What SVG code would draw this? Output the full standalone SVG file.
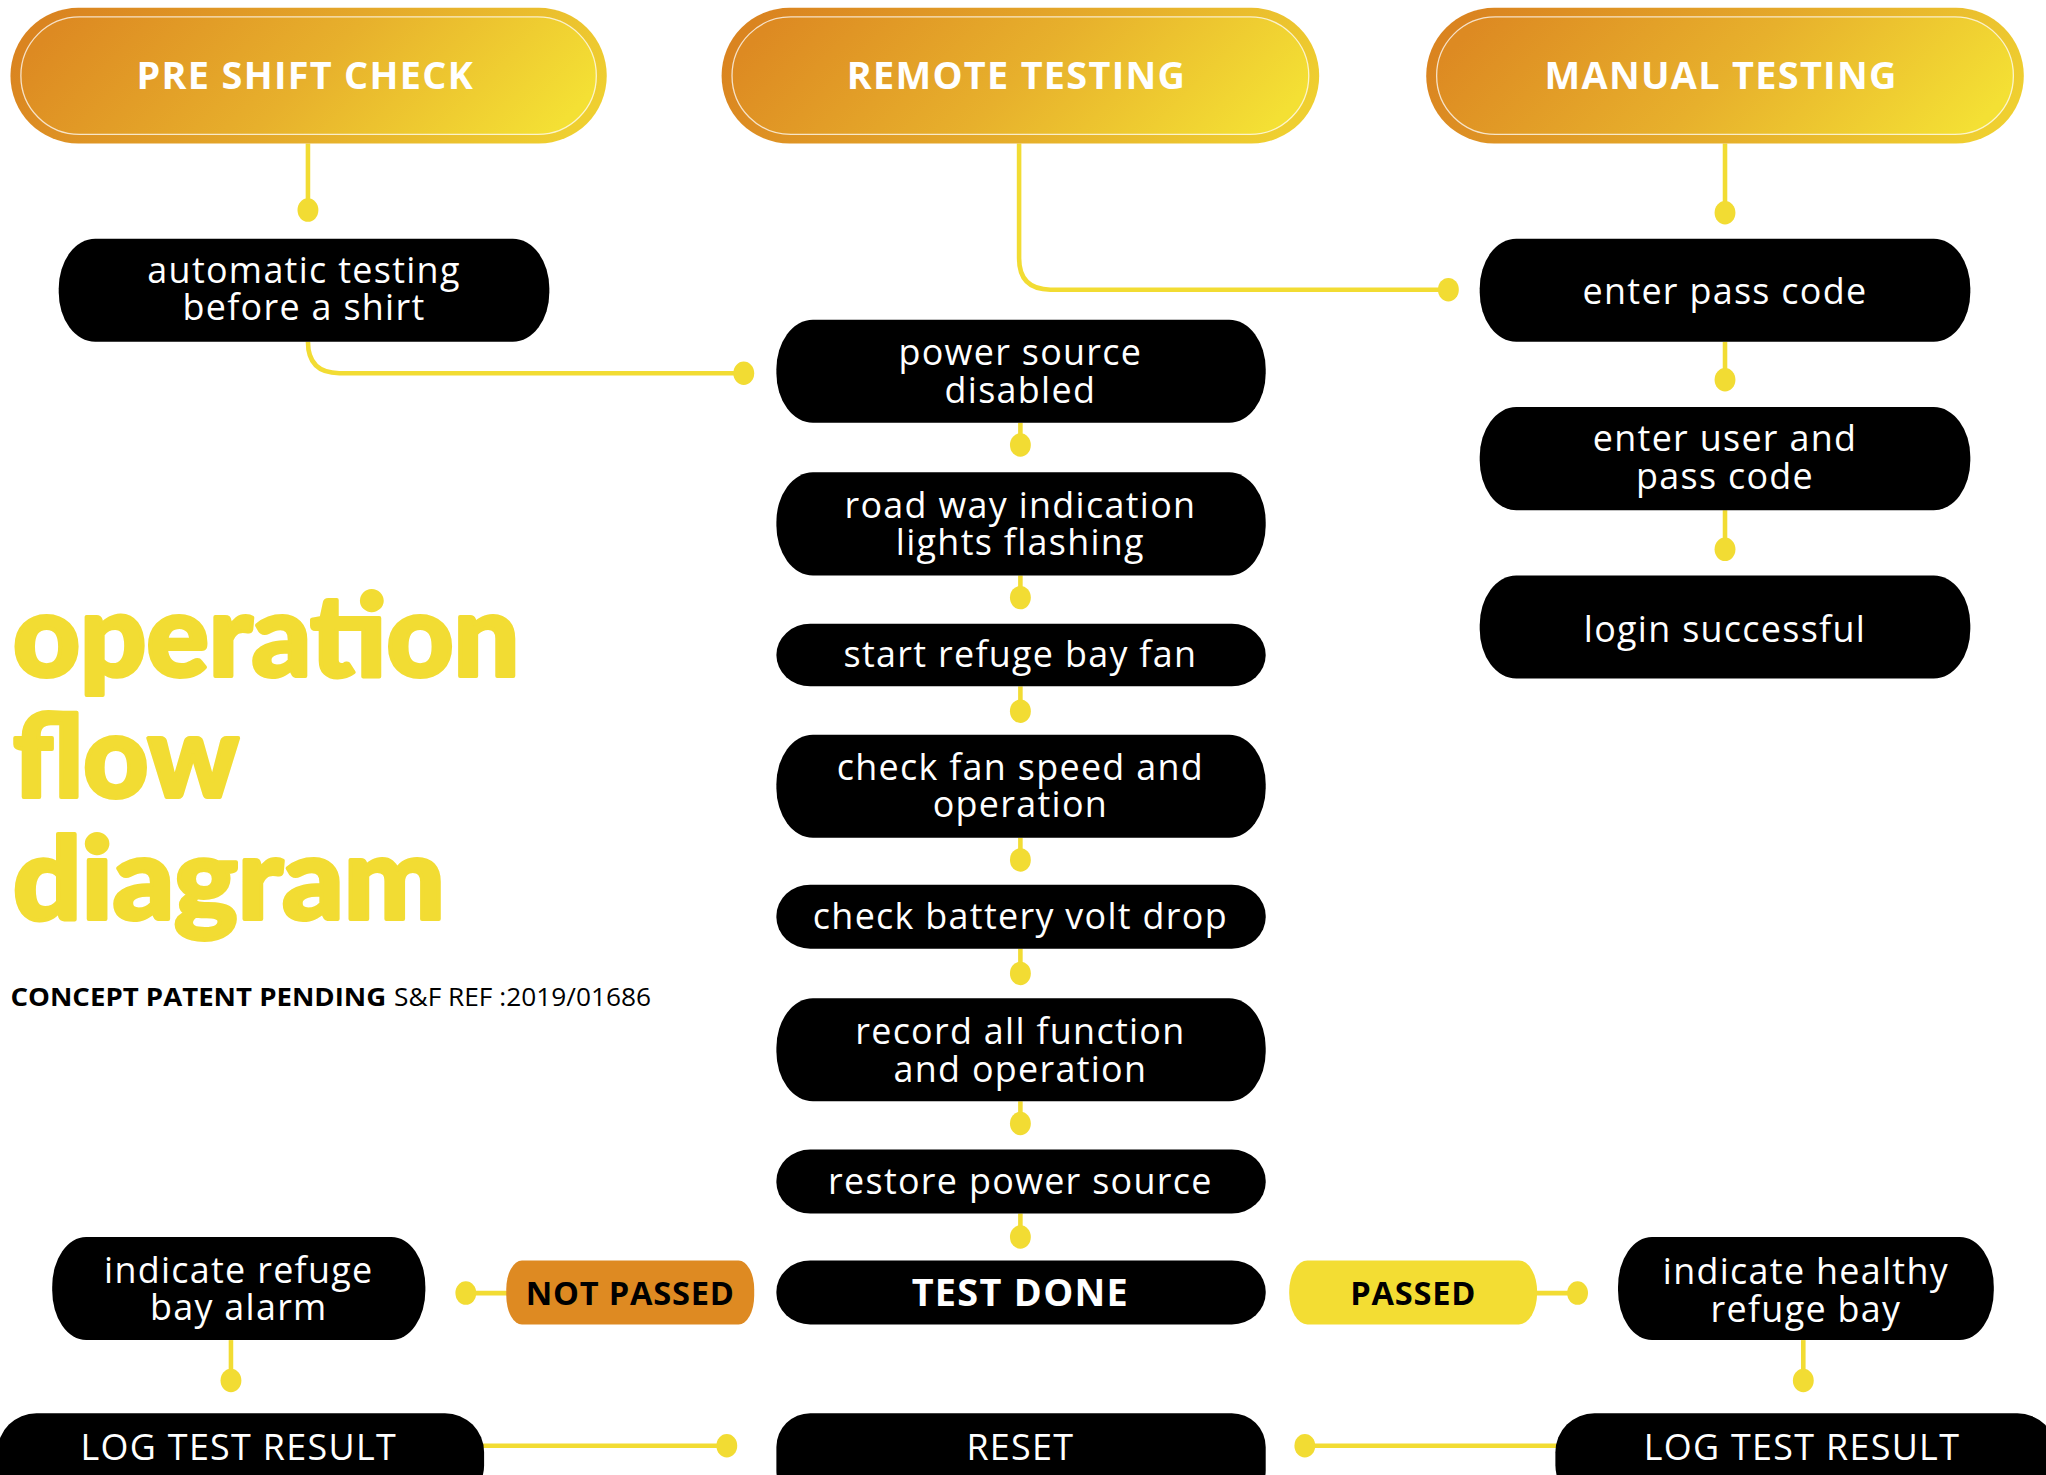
<svg xmlns="http://www.w3.org/2000/svg" width="2046" height="1475" viewBox="0 0 2046 1475">
<defs>
<linearGradient id="gOuter" x1="0" y1="0.4" x2="1" y2="0.6">
<stop offset="0" stop-color="#DA8420"/>
<stop offset="0.5" stop-color="#E4A82A"/>
<stop offset="1" stop-color="#EFCF30"/>
</linearGradient>
<linearGradient id="gInner" x1="0" y1="0.4" x2="1" y2="0.6">
<stop offset="0" stop-color="#DD8A22"/>
<stop offset="0.5" stop-color="#E7B02C"/>
<stop offset="1" stop-color="#F4E034"/>
</linearGradient>
<style>
.box{fill:#000}
.t{font-family:"Open Sans","Liberation Sans",sans-serif;font-size:27.5px;letter-spacing:1px;fill:#fff;text-anchor:middle}
.tb{font-family:"Open Sans","Liberation Sans",sans-serif;font-size:29px;letter-spacing:1px;font-weight:700;fill:#fff;text-anchor:middle}
.hdr{font-family:"Open Sans","Liberation Sans",sans-serif;font-size:29px;letter-spacing:1px;font-weight:700;fill:#fff;text-anchor:middle}
.lab{font-family:"Open Sans","Liberation Sans",sans-serif;font-size:25px;letter-spacing:0.6px;font-weight:700;fill:#000;text-anchor:middle}
.ln{stroke:#F2DC33;stroke-width:3.5;fill:none}
.dot{fill:#F2DC33}
.title{font-family:Lato,"Open Sans",sans-serif;font-weight:900;font-size:88px;fill:#F2DC33;stroke:#F2DC33;stroke-width:3;stroke-linejoin:round}
.outer{fill:url(#gOuter)}
.inner{fill:url(#gInner);stroke:#FFFFFF;stroke-opacity:0.75;stroke-width:1}
</style>
</defs>
<rect x="0" y="0" width="2046" height="1475" fill="#FFFFFF"/>
<g transform="scale(1.30485)">
<g id="connectors">
<path class="ln" d="M236,110 V161"/>
<ellipse class="dot" cx="236" cy="161" rx="8" ry="9"/>
<path class="ln" d="M236,262 Q236,286 260,286 H570"/>
<ellipse class="dot" cx="570" cy="286" rx="8" ry="9"/>
<path class="ln" d="M781,110 V198 Q781,222 805,222 H1110"/>
<ellipse class="dot" cx="1110" cy="222" rx="8" ry="9"/>
<path class="ln" d="M1322,110 V163"/>
<ellipse class="dot" cx="1322" cy="163" rx="8" ry="9"/>
<path class="ln" d="M1322,262 V291"/>
<ellipse class="dot" cx="1322" cy="291" rx="8" ry="9"/>
<path class="ln" d="M1322,391 V421"/>
<ellipse class="dot" cx="1322" cy="421" rx="8" ry="9"/>
<path class="ln" d="M782,324 V341"/>
<ellipse class="dot" cx="782" cy="341" rx="8" ry="9"/>
<path class="ln" d="M782,441 V458"/>
<ellipse class="dot" cx="782" cy="458" rx="8" ry="9"/>
<path class="ln" d="M782,526 V545"/>
<ellipse class="dot" cx="782" cy="545" rx="8" ry="9"/>
<path class="ln" d="M782,642 V659"/>
<ellipse class="dot" cx="782" cy="659" rx="8" ry="9"/>
<path class="ln" d="M782,727 V746"/>
<ellipse class="dot" cx="782" cy="746" rx="8" ry="9"/>
<path class="ln" d="M782,844 V861"/>
<ellipse class="dot" cx="782" cy="861" rx="8" ry="9"/>
<path class="ln" d="M782,930 V948"/>
<ellipse class="dot" cx="782" cy="948" rx="8" ry="9"/>
<path class="ln" d="M357,991 H390"/>
<ellipse class="dot" cx="357" cy="991" rx="8" ry="9"/>
<path class="ln" d="M1176,991 H1209"/>
<ellipse class="dot" cx="1209" cy="991" rx="8" ry="9"/>
<path class="ln" d="M177,1027 V1058"/>
<ellipse class="dot" cx="177" cy="1058" rx="8" ry="9"/>
<path class="ln" d="M1382,1027 V1058"/>
<ellipse class="dot" cx="1382" cy="1058" rx="8" ry="9"/>
<path class="ln" d="M369,1108 H557"/>
<ellipse class="dot" cx="557" cy="1108" rx="8" ry="9"/>
<path class="ln" d="M1000,1108 H1194"/>
<ellipse class="dot" cx="1000" cy="1108" rx="8" ry="9"/>
</g>
<g id="hdr-pre">
<rect class="outer" x="8" y="6" width="457" height="104" rx="52" ry="52"/>
<rect class="inner" x="16" y="13" width="441" height="90" rx="45" ry="45"/>
<text class="hdr" x="234" y="68">PRE SHIFT CHECK</text>
</g>
<g id="hdr-remote">
<rect class="outer" x="553" y="6" width="458" height="104" rx="52" ry="52"/>
<rect class="inner" x="561" y="13" width="442" height="90" rx="45" ry="45"/>
<text class="hdr" x="779" y="68">REMOTE TESTING</text>
</g>
<g id="hdr-manual">
<rect class="outer" x="1093" y="6" width="458" height="104" rx="52" ry="52"/>
<rect class="inner" x="1101" y="13" width="442" height="90" rx="45" ry="45"/>
<text class="hdr" x="1319" y="68" letter-spacing="0.6">MANUAL TESTING</text>
</g>
<g id="n-auto">
<rect class="box" x="45" y="183" width="376" height="79" rx="28" ry="38"/>
<text class="t" x="233" y="217">automatic testing<tspan x="233" dy="28.5">before a shirt</tspan></text>
</g>
<g id="n-passcode">
<rect class="box" x="1134" y="183" width="376" height="79" rx="28" ry="38"/>
<text class="t" x="1322" y="233">enter pass code</text>
</g>
<g id="n-userpass">
<rect class="box" x="1134" y="312" width="376" height="79" rx="28" ry="38"/>
<text class="t" x="1322" y="346">enter user and<tspan x="1322" dy="29">pass code</tspan></text>
</g>
<g id="n-login">
<rect class="box" x="1134" y="441" width="376" height="79" rx="28" ry="38"/>
<text class="t" x="1322" y="492">login successful</text>
</g>
<g id="n-power">
<rect class="box" x="595" y="245" width="375" height="79" rx="28" ry="38"/>
<text class="t" x="782" y="280">power source<tspan x="782" dy="28.5">disabled</tspan></text>
</g>
<g id="n-road">
<rect class="box" x="595" y="362" width="375" height="79" rx="28" ry="38"/>
<text class="t" x="782" y="397">road way indication<tspan x="782" dy="28.5">lights flashing</tspan></text>
</g>
<g id="n-fan">
<rect class="box" x="595" y="478" width="375" height="48" rx="26" ry="24"/>
<text class="t" x="782" y="511">start refuge bay fan</text>
</g>
<g id="n-fanspeed">
<rect class="box" x="595" y="563" width="375" height="79" rx="28" ry="38"/>
<text class="t" x="782" y="598">check fan speed and<tspan x="782" dy="28.5">operation</tspan></text>
</g>
<g id="n-battery">
<rect class="box" x="595" y="678" width="375" height="49" rx="26" ry="24"/>
<text class="t" x="782" y="712">check battery volt drop</text>
</g>
<g id="n-record">
<rect class="box" x="595" y="765" width="375" height="79" rx="28" ry="38"/>
<text class="t" x="782" y="800">record all function<tspan x="782" dy="29">and operation</tspan></text>
</g>
<g id="n-restore">
<rect class="box" x="595" y="881" width="375" height="49" rx="26" ry="24"/>
<text class="t" x="782" y="915">restore power source</text>
</g>
<g id="n-done">
<rect class="box" x="595" y="966" width="375" height="49" rx="26" ry="24"/>
<text class="tb" x="782" y="1001">TEST DONE</text>
</g>
<g id="n-reset">
<rect class="box" x="595" y="1083" width="375" height="70" rx="26" ry="26"/>
<text class="t" x="782" y="1119">RESET</text>
</g>
<g id="n-notpassed">
<rect x="388" y="966" width="190" height="49" rx="12" ry="22" fill="#DE8A22"/>
<text class="lab" x="483" y="1000">NOT PASSED</text>
</g>
<g id="n-passed">
<rect x="988" y="966" width="190" height="49" rx="14" ry="24" fill="#F3DD33"/>
<text class="lab" x="1083" y="1000">PASSED</text>
</g>
<g id="n-alarm">
<rect class="box" x="40" y="948" width="286" height="79" rx="26" ry="38"/>
<text class="t" x="183" y="983">indicate refuge<tspan x="183" dy="28.5">bay alarm</tspan></text>
</g>
<g id="n-healthy">
<rect class="box" x="1240" y="948" width="288" height="79" rx="26" ry="38"/>
<text class="t" x="1384" y="984">indicate healthy<tspan x="1384" dy="29">refuge bay</tspan></text>
</g>
<g id="n-log-left">
<rect class="box" x="-2" y="1083" width="373" height="70" rx="30" ry="30"/>
<text class="t" x="183" y="1119">LOG TEST RESULT</text>
</g>
<g id="n-log-right">
<rect class="box" x="1192" y="1083" width="384" height="70" rx="30" ry="30"/>
<text class="t" x="1381" y="1119">LOG TEST RESULT</text>
</g>
<g id="title">
<text class="title" x="10" y="518" textLength="388" lengthAdjust="spacingAndGlyphs">operation</text>
<text class="title" x="10" y="611" textLength="173" lengthAdjust="spacingAndGlyphs">flow</text>
<text class="title" x="10" y="704" textLength="331" lengthAdjust="spacingAndGlyphs">diagram</text>
<text x="8" y="771" font-family="'Open Sans','Liberation Sans',sans-serif" font-size="19" font-weight="700" fill="#000" textLength="288" lengthAdjust="spacingAndGlyphs">CONCEPT PATENT PENDING</text>
<text x="302" y="771" font-family="'Open Sans','Liberation Sans',sans-serif" font-size="19" fill="#000" textLength="197" lengthAdjust="spacingAndGlyphs">S&amp;F REF :2019/01686</text>
</g>
</g>
</svg>
